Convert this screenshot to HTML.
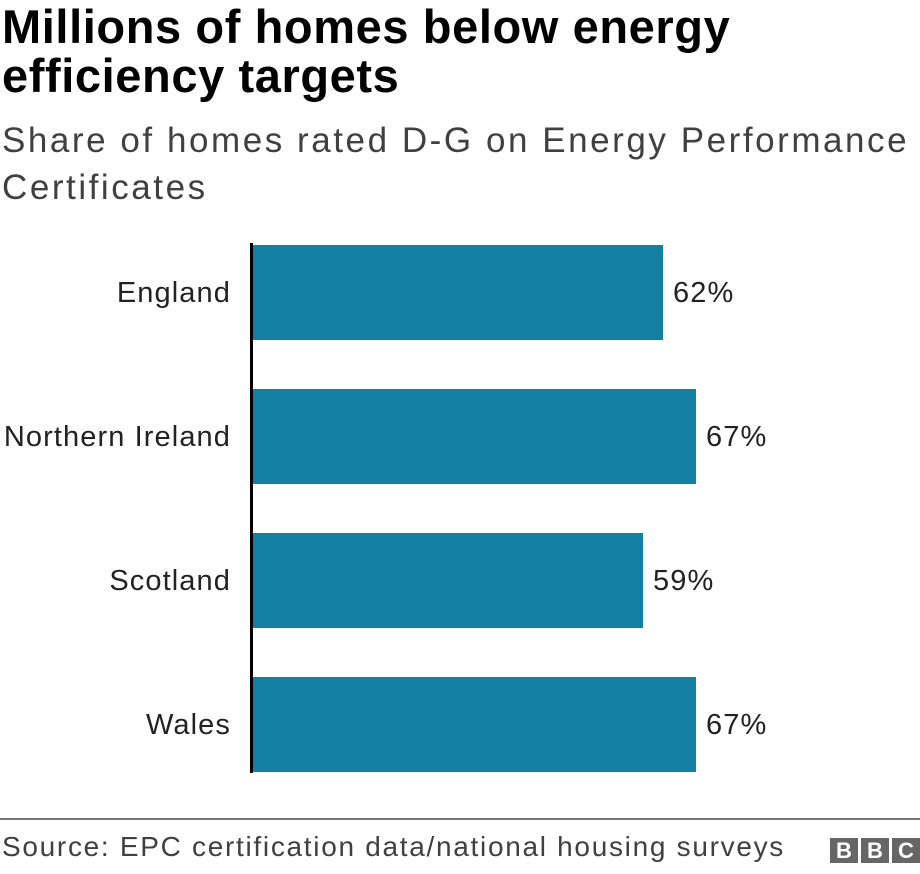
<!DOCTYPE html>
<html><head><meta charset="utf-8"><style>
body{margin:0;width:920px;height:874px;background:#fff;font-family:"Liberation Sans",Arial,sans-serif;position:relative;overflow:hidden}
.t{position:absolute;left:2px;top:2px;font-size:47px;font-weight:bold;line-height:49px;color:#000;margin:0;letter-spacing:0.6px;white-space:nowrap}
.s{position:absolute;left:2px;top:117px;font-size:35px;line-height:47px;color:#404040;letter-spacing:2.55px;white-space:nowrap}
.lab{position:absolute;right:689px;font-size:29px;color:#222;line-height:30px;white-space:nowrap;letter-spacing:1.1px}
.bar{position:absolute;left:252px;height:95px;background:#1380a1}
.val{position:absolute;font-size:29px;color:#222;line-height:30px;letter-spacing:1.1px}
.ax{position:absolute;left:250px;top:243px;width:3px;height:530px;background:#000}
.hr{position:absolute;left:0;top:818px;width:920px;height:2px;background:#777}
.src{position:absolute;left:2px;top:832px;font-size:28px;color:#404040;line-height:30px;letter-spacing:1.7px;white-space:nowrap}
.b{position:absolute;top:838px;width:28px;height:25px;background:#666;color:#fff;font-weight:bold;font-size:22px;text-align:center;line-height:26px}
</style></head><body>
<div class="t">Millions of homes below energy<br>efficiency targets</div>
<div class="s">Share of homes rated D-G on Energy Performance<br>Certificates</div>
<div class="bar" style="top:245px;width:411px"></div>
<div class="bar" style="top:389px;width:444px"></div>
<div class="bar" style="top:533px;width:391px"></div>
<div class="bar" style="top:677px;width:444px"></div>
<div class="ax"></div>
<div class="lab" style="top:278px">England</div>
<div class="lab" style="top:422px">Northern Ireland</div>
<div class="lab" style="top:566px">Scotland</div>
<div class="lab" style="top:710px">Wales</div>
<div class="val" style="left:673px;top:278px">62%</div>
<div class="val" style="left:706px;top:422px">67%</div>
<div class="val" style="left:653px;top:566px">59%</div>
<div class="val" style="left:706px;top:710px">67%</div>
<div class="hr"></div>
<div class="src">Source: EPC certification data/national housing surveys</div>
<div class="b" style="left:830px">B</div>
<div class="b" style="left:861px">B</div>
<div class="b" style="left:892px">C</div>
</body></html>
